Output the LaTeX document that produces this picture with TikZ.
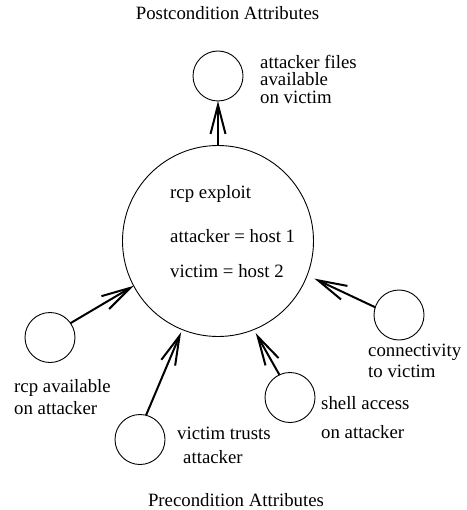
\documentclass[tikz,border=0pt]{standalone}
\usepackage{fontspec}
\setmainfont{Liberation Serif}
\usetikzlibrary{arrows.meta}
\begin{document}
\begin{tikzpicture}[x=1pt,y=-1pt,
  font=\fontsize{18.8}{22}\selectfont,
  attr/.style={draw,circle,line width=0.9pt,minimum size=50pt,inner sep=0pt,outer sep=0pt},
  bigc/.style={draw,circle,line width=0.9pt,minimum size=191pt,inner sep=0pt,outer sep=0pt},
  lbl/.style={anchor=base west,inner sep=0pt},
  ttl/.style={anchor=base,inner sep=0pt},
  link/.style={line width=2pt,-{Straight Barb[length=29pt,width=15pt,line width=2pt]}}]
\useasboundingbox (0,0) rectangle (466,510);
% nodes
\node[bigc] (big) at (218,241) {};
\node[attr] (post) at (218,76) {};
\node[attr] (rcp) at (50,337.5) {};
\node[attr] (trusts) at (140,439.5) {};
\node[attr] (shell) at (290,397.5) {};
\node[attr] (conn) at (399,315) {};
% titles
\node[ttl] (tpost) at (227.5,20) {Postcondition Attributes};
\node[ttl] (tpre) at (236,506) {Precondition Attributes};
% labels
\node[lbl] (l1a) at (260,68.5) {attacker files};
\node[lbl] (l1b) at (260,86) {available};
\node[lbl] (l1c) at (260,104) {on victim};
\node[lbl] (e1) at (170,199) {rcp exploit};
\node[lbl] (e2) at (170,242) {attacker = host 1};
\node[lbl] (e3) at (170,277) {victim = host 2};
\node[lbl] (r1) at (14,392) {rcp available};
\node[lbl] (r2) at (14,414) {on attacker};
\node[lbl] (v1) at (177,439) {victim trusts};
\node[lbl] (v2) at (183,463) {attacker};
\node[lbl] (c1) at (368,356) {connectivity};
\node[lbl] (c2) at (368,377) {to victim};
\node[lbl] (s1) at (321,409) {shell access};
\node[lbl] (s2) at (321,438) {on attacker};
% connectors
\draw[link] (big.north) -- (post.south);
\draw[link] (rcp.35) -- (big.208);
\draw[link,shorten >=3pt] (trusts.76) -- (big.248);
\draw[link,shorten >=4pt] (shell.115) -- (big.-68);
\draw[link,shorten >=8pt] (conn.162) -- (big.-21);
\end{tikzpicture}
\end{document}
